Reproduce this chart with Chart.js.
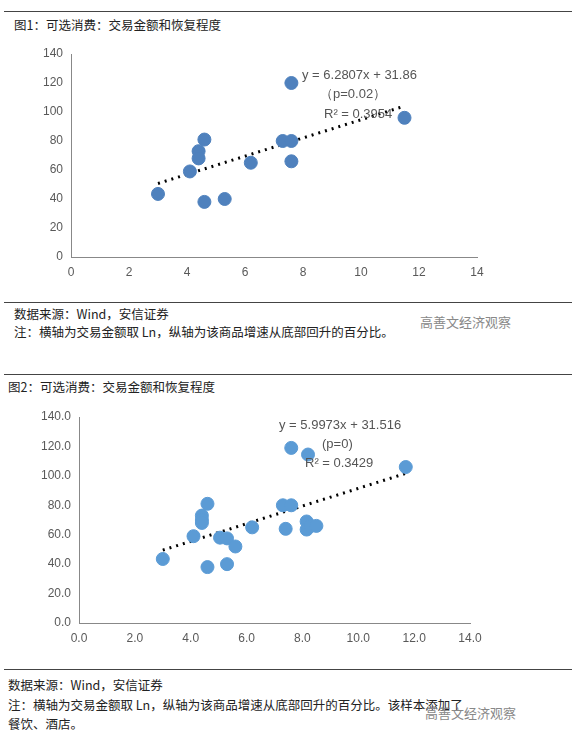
<!DOCTYPE html>
<html>
<head>
<meta charset="UTF-8">
<title>可选消费</title>
<script src="https://cdn.jsdelivr.net/npm/chart.js@4/dist/chart.umd.min.js"></script>
<style>
  body { margin:0; width:572px; height:744px; position:relative; background:#fff; overflow:hidden;
         font-family:"Noto Sans CJK SC", serif; color:#222; }
  .hr { position:absolute; left:4px; right:0; border-top:1px solid #444; }
  .t { position:absolute; font-size:12.5px; white-space:nowrap; }
  .wm { position:absolute; font-size:13px; color:#888; }
  canvas { position:absolute; left:0; }
</style>
</head>
<body>
<div class="hr" style="top:11px"></div>
<div class="t" style="left:14px;top:15px">图1：可选消费：交易金额和恢复程度</div>
<div style="position:absolute;top:40px;width:572px;height:250px"><canvas id="c1"></canvas></div>
<div class="hr" style="top:302px"></div>
<div class="t" style="left:14px;top:304px">数据来源：Wind，安信证券</div>
<div class="t" style="left:14px;top:322px">注：横轴为交易金额取 Ln，纵轴为该商品增速从底部回升的百分比。</div>
<div class="wm" style="left:420px;top:312px">高善文经济观察</div>
<div class="hr" style="top:374px"></div>
<div class="t" style="left:8px;top:377px">图2：可选消费：交易金额和恢复程度</div>
<div style="position:absolute;top:400px;width:572px;height:265px"><canvas id="c2"></canvas></div>
<div class="hr" style="top:669px"></div>
<div class="t" style="left:8px;top:675px">数据来源：Wind，安信证券</div>
<div class="t" style="left:8px;top:695px">注：横轴为交易金额取 Ln，纵轴为该商品增速从底部回升的百分比。该样本添加了</div>
<div class="t" style="left:8px;top:714px">餐饮、酒店。</div>
<div class="wm" style="left:425px;top:703px">高善文经济观察</div>
<script>
// chart 1
let x1 = [3, 4.1, 4.4, 4.4, 4.6, 4.6, 5.3, 6.2, 7.3, 7.6, 7.6, 7.6, 11.5];
let y1 = [43.5, 59, 73, 68, 81, 38, 40, 65, 80, 80, 66, 120, 96];
let fit1 = [6.2807, 31.86], fitRange1 = [3, 11.4];
// chart 2
let x2 = [3, 4.1, 4.4, 4.4, 4.4, 4.6, 4.6, 5.05, 5.3, 5.3, 5.6, 6.2, 7.3, 7.6, 7.4, 7.6, 8.2, 8.15, 8.15, 8.3, 8.5, 11.7];
let y2 = [43.5, 59, 73, 70, 68, 81, 38, 58, 57.5, 40, 52, 65, 80, 80, 64, 119, 114.5, 69, 63.5, 66, 66, 106];
let fit2 = [5.9973, 31.516], fitRange2 = [3, 11.7];

function pts(xs, ys){ return xs.map((v,i) => ({x:v, y:ys[i]})); }
function line(f, r){ return r.map(v => ({x:v, y:f[0]*v + f[1]})); }

function make(id, xs, ys, fit, range, color, dec, pad, xh, yw, notes){
  const tick = {color:'#595959', font:{family:'Liberation Sans', size:12}};
  new Chart(document.getElementById(id), {
    type:'scatter',
    data:{datasets:[
      {data:pts(xs,ys), backgroundColor:color, borderColor:color, pointRadius:6.5, pointHoverRadius:6.5},
      {data:line(fit,range), showLine:true, borderColor:'#000', borderWidth:3, borderDash:[2,5], pointRadius:0, fill:false}
    ]},
    options:{
      responsive:true, maintainAspectRatio:false, animation:false,
      layout:{padding:pad},
      plugins:{legend:{display:false}, tooltip:{enabled:false}},
      scales:{
        x:{min:0, max:14, ticks:Object.assign({stepSize:2, callback:v => v.toFixed(dec)}, tick),
           grid:{display:false, drawTicks:true, tickLength:5, tickColor:'#888'}, border:{color:'#888'},
           afterFit:s => { s.height = xh; }},
        y:{min:0, max:140, ticks:Object.assign({stepSize:20, callback:v => v.toFixed(dec)}, tick),
           grid:{display:false, drawTicks:true, tickLength:5, tickColor:'#888'}, border:{color:'#888'},
           afterFit:s => { s.width = yw; }}
      }
    },
    plugins:[{id:'notes', afterDraw(c){
      const g = c.ctx; g.save();
      g.font = '13px "Liberation Sans"'; g.fillStyle = '#555'; g.textAlign = 'left';
      notes.forEach(n => g.fillText(n[0], n[1], n[2]));
      g.restore();
    }}]
  });
}

make('c1', x1, y1, fit1, fitRange1, '#4f81bd', 0, {top:14, right:95, left:0, bottom:0}, 33, 71,
  [['y = 6.2807x + 31.86', 302, 39], ['（p=0.02）', 320, 58], ['R² = 0.3954', 324, 78]]);
make('c2', x2, y2, fit2, fitRange2, '#5b9bd5', 1, {top:17, right:102, left:0, bottom:0}, 42, 79,
  [['y = 5.9973x + 31.516', 279, 29], ['(p=0)', 322, 48], ['R² = 0.3429', 305, 67]]);
</script>
</body>
</html>
